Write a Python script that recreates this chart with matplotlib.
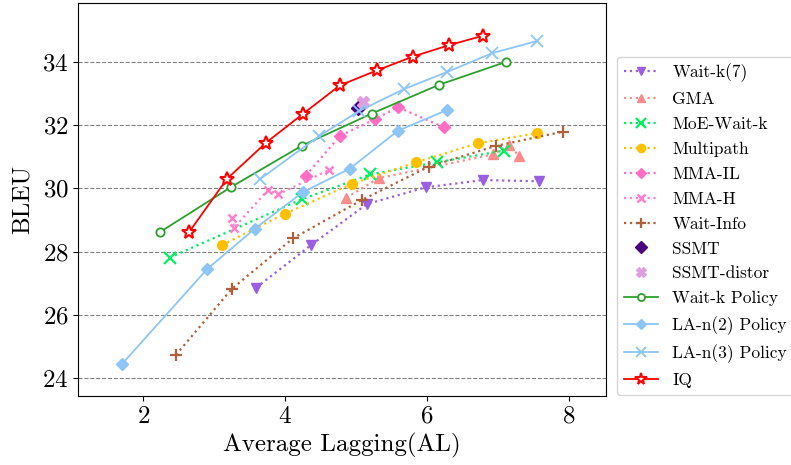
import matplotlib
matplotlib.use("Agg")
import matplotlib.pyplot as plt

plt.rcParams['font.family'] = 'serif'
plt.rcParams['font.serif'] = ['cmr10']
plt.rcParams['mathtext.fontset'] = 'cm'
plt.rcParams['axes.formatter.use_mathtext'] = True
plt.rcParams['axes.unicode_minus'] = False

# data (AL, BLEU)
waitk7_x = [3.59, 4.36, 5.15, 5.98, 6.79, 7.57]
waitk7_y = [26.86, 28.20, 29.50, 30.03, 30.26, 30.22]

gma_x = [4.86, 5.32, 6.93, 7.15, 7.30]
gma_y = [29.70, 30.32, 31.07, 31.37, 31.01]

moe_x = [2.37, 4.24, 5.20, 6.14, 7.08]
moe_y = [27.81, 29.66, 30.44, 30.82, 31.19]

multipath_x = [3.11, 3.99, 4.94, 5.84, 6.71, 7.55]
multipath_y = [28.21, 29.19, 30.14, 30.82, 31.42, 31.74]

mma_il_x = [4.29, 4.77, 5.26, 5.59, 6.24]
mma_il_y = [30.40, 31.65, 32.18, 32.56, 31.92]

mma_h_x = [3.25, 3.28, 3.76, 3.90, 4.62]
mma_h_y = [29.06, 28.76, 29.95, 29.81, 30.58]

waitinfo_x = [2.46, 3.25, 4.11, 5.08, 6.02, 6.97, 7.92]
waitinfo_y = [24.74, 26.83, 28.42, 29.63, 30.68, 31.34, 31.79]

ssmt_x = [5.03]
ssmt_y = [32.53]

ssmt_distor_x = [5.10]
ssmt_distor_y = [32.74]

waitk_policy_x = [2.23, 3.23, 4.23, 5.22, 6.17, 7.11]
waitk_policy_y = [28.61, 30.03, 31.34, 32.36, 33.27, 33.99]

lan2_x = [1.70, 2.90, 3.57, 4.25, 4.91, 5.59, 6.28]
lan2_y = [24.45, 27.45, 28.72, 29.88, 30.62, 31.82, 32.47]

lan3_x = [3.65, 4.48, 5.04, 5.67, 6.28, 6.92, 7.55]
lan3_y = [30.30, 31.65, 32.44, 33.13, 33.67, 34.27, 34.65]

iq_x = [2.65, 3.18, 3.73, 4.25, 4.77, 5.29, 5.80, 6.31, 6.79]
iq_y = [28.63, 30.30, 31.44, 32.35, 33.25, 33.72, 34.16, 34.52, 34.82]

fig = plt.figure(figsize=(7.91, 4.65), dpi=100)
ax = fig.add_axes([0.0990, 0.1490, 0.6671, 0.8452])

ax.plot(waitk7_x, waitk7_y, ':', color='#9a5fe0', marker='v', ms=7, lw=1.6, label='Wait-k(7)')
ax.plot(gma_x, gma_y, ':', color='#fa8c8c', marker='^', ms=7, lw=1.6, label='GMA')
ax.plot(moe_x, moe_y, ':', color='#00f060', marker='x', ms=8, mew=1.6, lw=1.6, label='MoE-Wait-k')
ax.plot(multipath_x, multipath_y, ':', color='#ffc000', marker='o', ms=7, lw=1.6, label='Multipath')
ax.plot(mma_il_x, mma_il_y, ':', color='#ff6ec4', marker='D', ms=6, lw=1.6, label='MMA-IL')
ax.plot(mma_h_x, mma_h_y, ':', color='#ff7fcc', marker='x', ms=6, mew=1.8, lw=1.6, label='MMA-H')
ax.plot(waitinfo_x, waitinfo_y, ':', color='#b0603a', marker='+', ms=8, mew=1.6, lw=1.6, label='Wait-Info')
ax.plot(ssmt_x, ssmt_y, linestyle='none', color='#4b0082', marker='D', ms=7, label='SSMT')
ax.plot(ssmt_distor_x, ssmt_distor_y, linestyle='none', color='#dda0dd', marker='X', ms=8, label='SSMT-distor')
ax.plot(waitk_policy_x, waitk_policy_y, '-', color='#2ca02c', marker='o', ms=6, mfc='white', mew=1.3, lw=1.3,
        label='Wait-k Policy')
ax.plot(lan2_x, lan2_y, '-', color='#8ec5f7', marker='D', ms=6, lw=1.3, label='LA-n(2) Policy')
ax.plot(lan3_x, lan3_y, '-', color='#8ec5f7', marker='x', ms=8, mew=1.3, lw=1.3, label='LA-n(3) Policy')
ax.plot(iq_x, iq_y, '-', color='red', marker='*', ms=10, mfc='white', mew=1.5, lw=1.3, label='IQ')

ax.set_xlim(1.084, 8.52)
ax.set_ylim(23.45, 35.86)
ax.set_xticks([2, 4, 6, 8])
ax.set_yticks([24, 26, 28, 30, 32, 34])
ax.tick_params(labelsize=18)
ax.yaxis.grid(True, linestyle='--', color='#808080', lw=0.8)
ax.set_axisbelow(True)
ax.set_xlabel('Average Lagging(AL)', fontsize=18)
ax.set_ylabel('BLEU', fontsize=18, labelpad=6)

fig.legend(loc='upper left', bbox_to_anchor=(0.7796, 0.878), bbox_transform=fig.transFigure,
           borderaxespad=0, fontsize=12.5, labelspacing=0.55, markerscale=0.85)

fig.savefig('out.png', dpi=100)
